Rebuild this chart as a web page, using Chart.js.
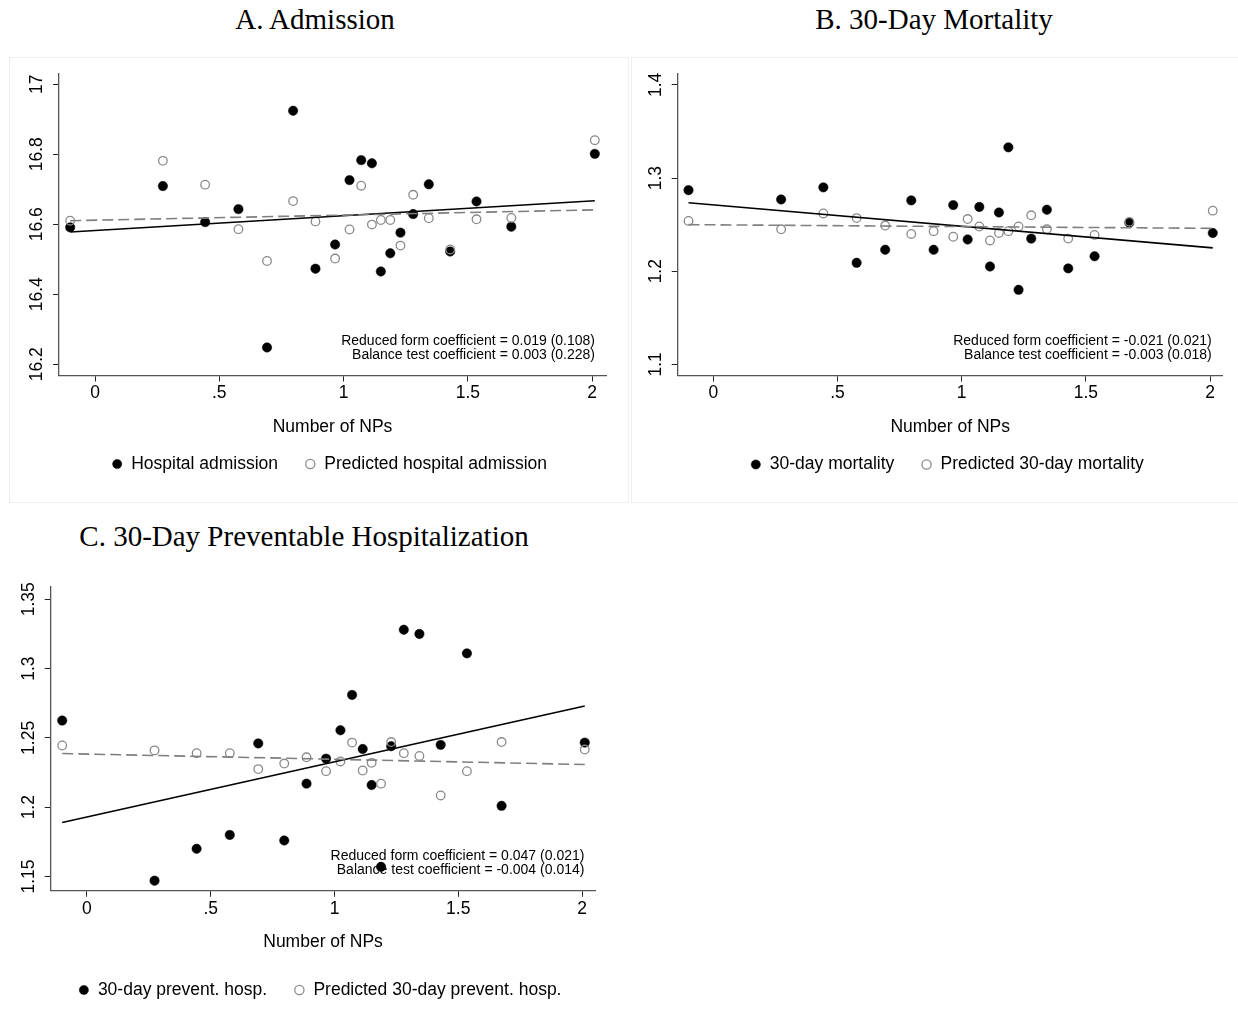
<!DOCTYPE html>
<html>
<head>
<meta charset="utf-8">
<title>Number of NPs</title>
<script src="https://cdn.jsdelivr.net/npm/chart.js@4.4.1/dist/chart.umd.min.js"></script>
<style>
  body { margin: 0; background: #fff; width: 1238px; height: 1013px; position: relative; overflow: hidden; }
  .title { position: absolute; font-family: "Liberation Serif", "Times New Roman", serif; font-size: 29px;
           line-height: 29px; color: #000; transform: translateX(-50%); white-space: nowrap; }
  .box { position: absolute; border: 1px solid #efefef; box-sizing: border-box; }
  canvas { position: absolute; }
</style>
</head>
<body>
<div class="box" style="left:9px; top:57px; width:620px; height:446px"></div>
<div class="box" style="left:631px; top:57px; width:610px; height:446px"></div>
<div class="title" style="left:315px; top:5px">A. Admission</div>
<div class="title" style="left:934px; top:5px">B. 30-Day Mortality</div>
<div class="title" style="left:304px; top:522px">C. 30-Day Preventable Hospitalization</div>

<script>
// number of NPs (bin means), shared by all three panels
var npBins = [-0.1, 0.273, 0.443, 0.577, 0.692, 0.797, 0.887, 0.966, 1.024, 1.071,
              1.114, 1.150, 1.188, 1.229, 1.280, 1.343, 1.429, 1.535, 1.675, 2.011];

var xTicks = [0, 0.5, 1, 1.5, 2];
var xTickLabels = ['0', '.5', '1', '1.5', '2'];

// A. Admission
var admission = [16.591, 16.709, 16.606, 16.643, 16.248, 16.924, 16.473, 16.542, 16.726, 16.783,
                 16.774, 16.465, 16.517, 16.576, 16.629, 16.714, 16.522, 16.665, 16.593, 16.801];
var predAdmission = [16.610, 16.781, 16.713, 16.586, 16.495, 16.666, 16.608, 16.502, 16.585, 16.710,
                     16.599, 16.612, 16.612, 16.539, 16.684, 16.617, 16.528, 16.614, 16.618, 16.840];
var admissionFit = [16.578, 16.667];
var predAdmissionFit = [16.610, 16.641];
var admissionTicks = [16.2, 16.4, 16.6, 16.8, 17];
var admissionTickLabels = ['16.2', '16.4', '16.6', '16.8', '17'];

// B. 30-day mortality
var mortality = [1.287, 1.277, 1.290, 1.209, 1.223, 1.276, 1.223, 1.271, 1.234, 1.269,
                 1.205, 1.263, 1.333, 1.180, 1.235, 1.266, 1.203, 1.216, 1.252, 1.241];
var predMortality = [1.254, 1.245, 1.262, 1.257, 1.249, 1.240, 1.243, 1.237, 1.256, 1.248,
                     1.233, 1.241, 1.243, 1.248, 1.260, 1.245, 1.235, 1.239, 1.253, 1.265];
var mortalityFit = [1.2735, 1.225];
var predMortalityFit = [1.250, 1.246];
var mortalityTicks = [1.1, 1.2, 1.3, 1.4];
var mortalityTickLabels = ['1.1', '1.2', '1.3', '1.4'];

// C. 30-day preventable hospitalization
var prevent = [1.2625, 1.147, 1.170, 1.180, 1.246, 1.176, 1.217, 1.235, 1.2555, 1.281,
               1.242, 1.216, 1.157, 1.244, 1.328, 1.325, 1.245, 1.311, 1.201, 1.2466];
var predPrevent = [1.2445, 1.241, 1.239, 1.239, 1.2275, 1.2315, 1.236, 1.226, 1.233, 1.2466,
                   1.2265, 1.232, 1.217, 1.247, 1.239, 1.237, 1.2085, 1.226, 1.247, 1.2416];
var preventFit = [1.189, 1.273];
var predPreventFit = [1.2387, 1.2308];
var preventTicks = [1.15, 1.2, 1.25, 1.3, 1.35];
var preventTickLabels = ['1.15', '1.2', '1.25', '1.3', '1.35'];

var FONT = '"Liberation Sans", Arial, Helvetica, sans-serif';
var FS = 17.5;
var LH = FS * 1.2;
var TICK_LEN = 6;
var TICK_PAD = 1.5;
var LEG_GAP = 27;

function toPoints(xs, ys) {
  return xs.map(function (x, i) { return { x: x, y: ys[i] }; });
}

function fitLine(ends) {
  return [{ x: npBins[0], y: ends[0] }, { x: npBins[npBins.length - 1], y: ends[1] }];
}

// rotated y tick labels and the coefficient note
function panelText(yLabels, note) {
  return {
    id: 'panelText',
    afterDraw: function (chart) {
      var ctx = chart.ctx, area = chart.chartArea, ys = chart.scales.y;
      ctx.save();
      ctx.fillStyle = '#000';
      ctx.font = FS + 'px ' + FONT;
      ctx.textAlign = 'center';
      ctx.textBaseline = 'middle';
      ys.ticks.forEach(function (t, i) {
        ctx.save();
        ctx.translate(area.left - 22, ys.getPixelForValue(t.value));
        ctx.rotate(-Math.PI / 2);
        ctx.fillText(yLabels[i], 0, 0);
        ctx.restore();
      });
      ctx.font = '14px ' + FONT;
      ctx.textAlign = 'right';
      note.forEach(function (line, i) {
        ctx.fillText(line, area.right - 11, area.bottom - 34.5 + i * 13.7);
      });
      ctx.restore();
    }
  };
}

function drawPanel(p) {
  var cv = document.createElement('canvas');
  cv.width = p.canvas.w;
  cv.height = p.canvas.h;
  cv.style.left = p.canvas.x + 'px';
  cv.style.top = p.canvas.y + 'px';
  document.body.appendChild(cv);

  var W = p.canvas.w, H = p.canvas.h;
  var left = p.area.l - p.canvas.x, right = p.area.r - p.canvas.x;
  var top = p.area.t - p.canvas.y, bottom = p.area.b - p.canvas.y;
  var yLeg = p.legendY - p.canvas.y;
  var yTit = p.titleY - p.canvas.y;
  var padBottom = H - yLeg - 10 - FS / 2;
  var legTop = yLeg - LEG_GAP - FS / 2;
  var titlePadBottom = legTop - LH / 2 - yTit;
  var titlePadTop = (legTop - bottom) - TICK_LEN - LH - TICK_PAD - LH - titlePadBottom;

  new Chart(cv.getContext('2d'), {
    type: 'scatter',
    data: {
      datasets: [{
        label: p.names[0],
        data: toPoints(npBins, p.black),
        backgroundColor: '#000',
        borderColor: '#000',
        borderWidth: 0.5,
        pointRadius: 4.7,
        order: 4
      }, {
        label: p.names[1],
        data: toPoints(npBins, p.gray),
        backgroundColor: 'rgba(0,0,0,0)',
        borderColor: '#8a8a8a',
        borderWidth: 1.3,
        pointRadius: 4.3,
        order: 3
      }, {
        type: 'line',
        label: 'fit',
        data: fitLine(p.fitBlack),
        borderColor: '#000',
        borderWidth: 1.6,
        pointRadius: 0,
        fill: false,
        order: 2
      }, {
        type: 'line',
        label: 'fit predicted',
        data: fitLine(p.fitGray),
        borderColor: '#7f7f7f',
        borderWidth: 1.6,
        borderDash: [11, 5],
        pointRadius: 0,
        fill: false,
        order: 1
      }]
    },
    options: {
      responsive: false,
      animation: false,
      devicePixelRatio: 1,
      events: [],
      layout: { padding: { left: left - TICK_LEN, right: W - right, top: top, bottom: padBottom } },
      scales: {
        x: {
          type: 'linear',
          min: p.xRange[0],
          max: p.xRange[1],
          afterBuildTicks: function (scale) {
            scale.ticks = xTicks.map(function (v) { return { value: v }; });
          },
          ticks: {
            color: '#000',
            padding: TICK_PAD,
            font: { family: FONT, size: FS },
            callback: function (v, i) { return xTickLabels[i]; }
          },
          grid: { drawOnChartArea: false, drawTicks: true, tickLength: TICK_LEN, tickColor: '#222', tickWidth: 1 },
          border: { display: true, color: '#555', width: 1.3 },
          title: {
            display: true,
            text: 'Number of NPs',
            color: '#000',
            font: { family: FONT, size: FS },
            padding: { top: titlePadTop, bottom: titlePadBottom }
          }
        },
        y: {
          type: 'linear',
          min: p.yRange[0],
          max: p.yRange[1],
          afterBuildTicks: function (scale) {
            scale.ticks = p.yTicks.map(function (v) { return { value: v }; });
          },
          ticks: { display: false },
          grid: { drawOnChartArea: false, drawTicks: true, tickLength: TICK_LEN, tickColor: '#222', tickWidth: 1 },
          border: { display: true, color: '#555', width: 1.3 }
        }
      },
      plugins: {
        tooltip: { enabled: false },
        legend: {
          position: 'bottom',
          labels: {
            usePointStyle: true,
            pointStyle: 'circle',
            boxWidth: 10.5,
            boxHeight: 6.5,
            padding: LEG_GAP,
            color: '#000',
            font: { family: FONT, size: FS },
            filter: function (item) { return item.datasetIndex < 2; },
            sort: function (a, b) { return a.datasetIndex - b.datasetIndex; }
          }
        }
      }
    },
    plugins: [panelText(p.yLabels, p.note)]
  });
}

drawPanel({
  canvas: { x: 10, y: 57, w: 618, h: 445 },
  area: { l: 59, r: 606, t: 73.3, b: 377 },
  legendY: 464, titleY: 426.7,
  xRange: [-0.145, 2.056], yRange: [16.168, 17.031],
  yTicks: admissionTicks, yLabels: admissionTickLabels,
  black: admission, gray: predAdmission,
  fitBlack: admissionFit, fitGray: predAdmissionFit,
  names: ['Hospital admission', 'Predicted hospital admission'],
  note: ['Reduced form coefficient = 0.019 (0.108)', 'Balance test coefficient = 0.003 (0.228)']
});

drawPanel({
  canvas: { x: 632, y: 57, w: 606, h: 445 },
  area: { l: 677.7, r: 1222.7, t: 73.3, b: 377 },
  legendY: 464.5, titleY: 427,
  xRange: [-0.1435, 2.051], yRange: [1.088, 1.4125],
  yTicks: mortalityTicks, yLabels: mortalityTickLabels,
  black: mortality, gray: predMortality,
  fitBlack: mortalityFit, fitGray: predMortalityFit,
  names: ['30-day mortality', 'Predicted 30-day mortality'],
  note: ['Reduced form coefficient = -0.021 (0.021)', 'Balance test coefficient = -0.003 (0.018)']
});

drawPanel({
  canvas: { x: 10, y: 557, w: 618, h: 456 },
  area: { l: 50.7, r: 595.4, t: 586.8, b: 892.3 },
  legendY: 990, titleY: 941.7,
  xRange: [-0.1465, 2.054], yRange: [1.1397, 1.359],
  yTicks: preventTicks, yLabels: preventTickLabels,
  black: prevent, gray: predPrevent,
  fitBlack: preventFit, fitGray: predPreventFit,
  names: ['30-day prevent. hosp.', 'Predicted 30-day prevent. hosp.'],
  note: ['Reduced form coefficient = 0.047 (0.021)', 'Balance test coefficient = -0.004 (0.014)']
});
</script>
</body>
</html>
